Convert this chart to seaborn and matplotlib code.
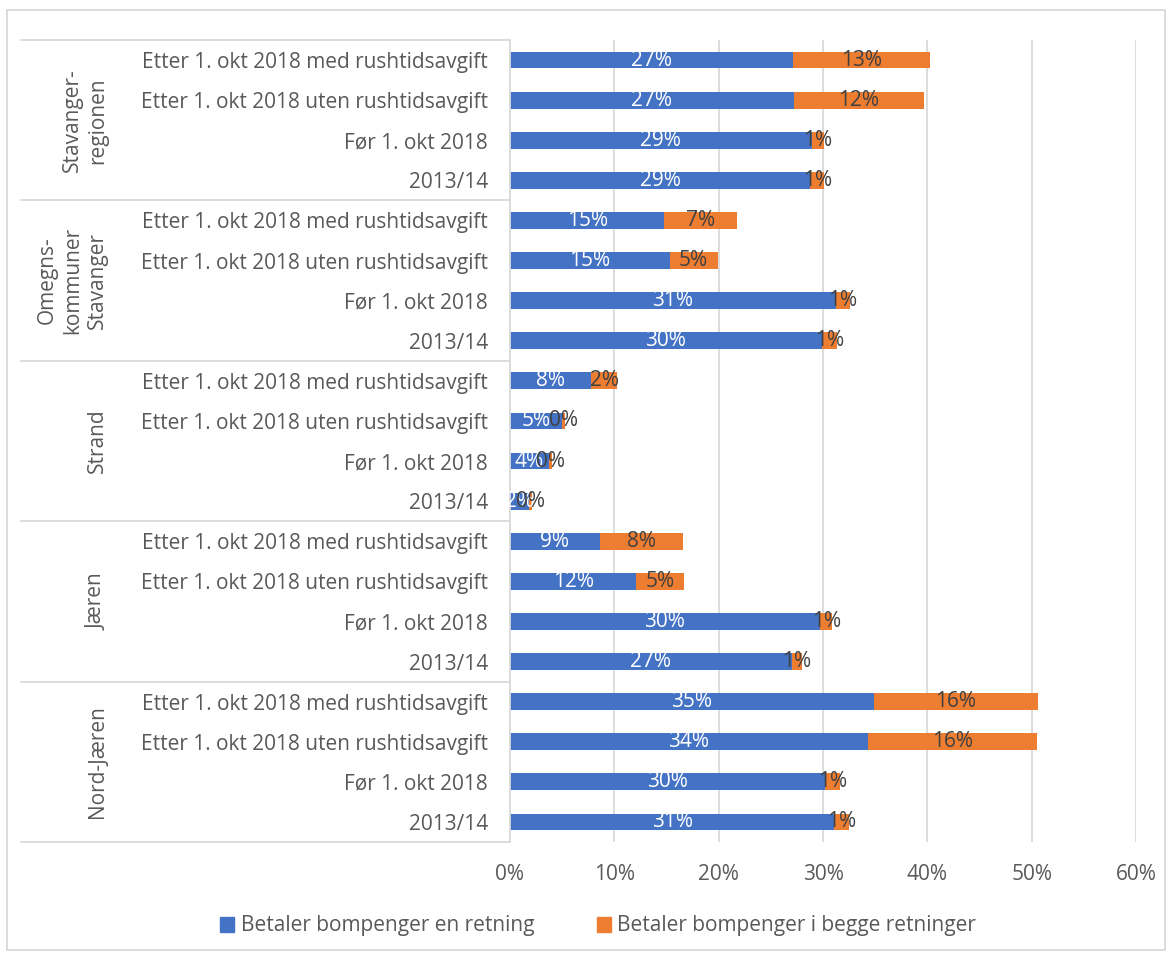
import numpy as np
import pandas as pd
import matplotlib.pyplot as plt
import matplotlib.transforms as mtransforms
from matplotlib.lines import Line2D
from matplotlib.patches import Rectangle
import seaborn as sns

# Data (percent)
groups = ["Stavanger-\nregionen", "Omegns-\nkommuner\nStavanger", "Strand", "Jæren", "Nord-Jæren"]
periods = [
    "Etter 1. okt 2018 med rushtidsavgift",
    "Etter 1. okt 2018 uten rushtidsavgift",
    "Før 1. okt 2018",
    "2013/14",
]
one_way = [
    [27.1, 27.2, 28.9, 28.8],
    [14.8, 15.3, 31.2, 29.9],
    [7.8, 5.0, 3.7, 1.8],
    [8.6, 12.1, 29.7, 27.0],
    [34.9, 34.3, 30.2, 31.1],
]
both_ways = [
    [13.2, 12.5, 1.2, 1.3],
    [7.0, 4.6, 1.4, 1.4],
    [2.5, 0.3, 0.3, 0.3],
    [8.0, 4.6, 1.2, 1.0],
    [15.7, 16.2, 1.4, 1.4],
]
series_names = ["Betaler bompenger en retning", "Betaler bompenger i begge retninger"]

blue = "#4472C4"
orange = "#ED7D31"
grey_text = "#595959"
fs = 15

rows = []
for gi, g in enumerate(groups):
    for pi, p in enumerate(periods):
        rows.append({"row": f"{gi}-{pi}", "group": g, "period": p,
                     "one": one_way[gi][pi], "both": both_ways[gi][pi]})
df = pd.DataFrame(rows)
df["total"] = df["one"] + df["both"]

sns.set_theme(style="white")
plt.rcParams["font.family"] = ["Open Sans", "DejaVu Sans"]

fig = plt.figure(figsize=(11.71, 9.58), dpi=100)
W, H = 1171, 958
ax = fig.add_axes([510 / W, 1 - 842 / H, (1136 - 510) / W, (842 - 40) / H])

order = list(df["row"])
sns.barplot(data=df, x="total", y="row", order=order, color=orange, width=0.42,
            orient="h", ax=ax, saturation=1, edgecolor="none")
sns.barplot(data=df, x="one", y="row", order=order, color=blue, width=0.42,
            orient="h", ax=ax, saturation=1, edgecolor="none")

# labels on segments
orange_bars = ax.containers[0]
blue_bars = ax.containers[1]
ax.bar_label(blue_bars, labels=[f"{v:.0f}%" for v in df["one"]], label_type="center",
             color="white", fontsize=fs)
for i, rect in enumerate(orange_bars):
    x0 = df["one"].iloc[i]
    v = df["both"].iloc[i]
    ax.text(x0 + v / 2, rect.get_y() + rect.get_height() / 2, f"{v:.0f}%",
            ha="center", va="center", color="#404040", fontsize=fs)

ax.set_xlim(0, 60)
ax.set_ylim(len(order) - 0.5, -0.5)
ax.set_xticks(np.arange(0, 61, 10))
ax.set_xticklabels([f"{t}%" for t in range(0, 61, 10)], color=grey_text, fontsize=fs)
ax.set_yticks(range(len(order)))
ax.set_yticklabels(df["period"], color=grey_text, fontsize=fs)
ax.tick_params(axis="y", length=0, pad=16)
ax.tick_params(axis="x", length=0, pad=16)
ax.set_xlabel("")
ax.set_ylabel("")
ax.grid(axis="x", color="#d9d9d9", linewidth=1.3)
ax.set_axisbelow(True)
for side in ["top", "right", "bottom"]:
    ax.spines[side].set_visible(False)
ax.spines["left"].set_color("#d9d9d9")
ax.spines["left"].set_linewidth(1.3)

# multi-level category axis: group separators and names
trans = mtransforms.blended_transform_factory(fig.transFigure, ax.transData)
for b in np.arange(-0.5, len(order), 4):
    fig.add_artist(Line2D([21 / W, 510 / W], [b, b], transform=trans,
                          color="#d9d9d9", linewidth=1.3))
for gi, g in enumerate(groups):
    ax.text(108 / W, gi * 4 + 1.5, g, transform=trans, rotation=90, ha="right",
            va="center", multialignment="center", color=grey_text, fontsize=fs,
            linespacing=1.25)

# chart border
fig.add_artist(Rectangle((7 / W, 8 / H), 1158 / W, 940 / H, transform=fig.transFigure,
                         fill=False, edgecolor="#d9d9d9", linewidth=1.3))

handles = [Rectangle((0, 0), 1, 1, color=blue), Rectangle((0, 0), 1, 1, color=orange)]
fig.legend(handles, series_names, loc="center", bbox_to_anchor=(598 / W, 1 - 926 / H),
           ncol=2, frameon=False, fontsize=fs, labelcolor=grey_text,
           handlelength=0.7, handleheight=0.7, handletextpad=0.3, columnspacing=3.0)

fig.savefig("out.png", dpi=100)
